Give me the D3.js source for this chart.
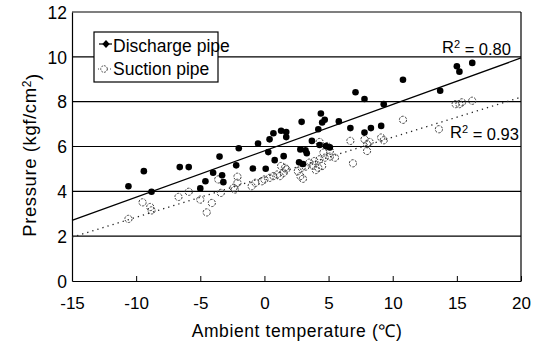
<!DOCTYPE html>
<html>
<head>
<meta charset="utf-8">
<script src="https://cdn.jsdelivr.net/npm/d3@7"></script>
<style>
  body { margin: 0; background: #fff; }
  svg text { font-family: "Liberation Sans", Arial, sans-serif; fill: #000; }
</style>
</head>
<body>
<div id="chart"></div>
<script>
// Data
const dischargeTemp = [-10.6, -9.4, -8.8, -6.6, -5.9, -5.0, -4.6, -4.0, -3.5, -3.3, -3.2, -2.2, -2.0, -0.9, -0.5, 0.1, 0.3, 0.4, 0.7, 0.8, 1.3, 1.5, 1.7, 1.7, 2.8, 2.9, 3.2, 3.3, 2.7, 3.0, 3.7, 4.2, 4.3, 4.4, 4.5, 4.7, 4.8, 5.1, 5.8, 6.7, 7.1, 7.8, 7.8, 8.3, 9.1, 9.3, 10.8, 13.7, 15.0, 15.2, 16.2];
const dischargePressure = [4.23, 4.90, 3.98, 5.08, 5.08, 4.13, 4.45, 4.83, 5.55, 4.72, 4.41, 5.16, 5.92, 5.02, 6.13, 5.01, 5.75, 6.32, 6.59, 5.39, 6.70, 5.57, 6.65, 6.42, 5.87, 7.10, 5.83, 5.70, 5.30, 5.22, 6.25, 6.77, 6.07, 7.47, 7.07, 7.19, 6.02, 5.96, 7.12, 6.82, 8.42, 8.12, 6.62, 6.82, 6.92, 7.89, 8.98, 8.49, 9.58, 9.34, 9.73];

const suctionTemp = [-10.6, -9.5, -8.9, -8.8, -6.7, -5.9, -5.0, -4.1, -4.5, -3.4, -3.6, -2.3, -2.1, -2.1, -2.4, -1.0, -0.7, -0.2, 0.0, 0.4, 0.7, 1.0, 1.2, 1.5, 1.7, 1.3, 1.6, 2.6, 2.9, 3.2, 2.8, 3.0, 3.5, 3.9, 4.3, 4.7, 5.1, 5.5, 4.2, 4.5, 4.3, 4.9, 4.6, 5.1, 6.7, 6.9, 7.8, 8.0, 8.2, 8.0, 9.1, 9.3, 10.8, 13.6, 14.9, 15.2, 15.4, 16.2, 3.8, 4.0];
const suctionPressure = [2.77, 3.51, 3.30, 3.15, 3.75, 3.98, 3.63, 3.48, 3.06, 3.93, 4.53, 4.08, 4.38, 4.65, 4.16, 4.23, 4.38, 4.45, 4.53, 4.60, 4.68, 4.75, 4.68, 4.83, 4.98, 5.13, 5.05, 4.90, 5.05, 5.10, 4.68, 4.56, 5.28, 5.35, 5.43, 5.50, 5.55, 5.50, 5.05, 5.13, 6.20, 6.02, 5.73, 5.80, 6.25, 5.25, 6.32, 6.10, 6.20, 5.80, 6.40, 6.28, 7.19, 6.77, 7.89, 7.89, 7.97, 8.04, 5.15, 4.95];

// trend lines (end points at the axis limits)
const fitTemp = [-15, 20];
const dischargeFit = [2.70, 9.95];
const suctionFit = [1.95, 8.20];

const xTicks = [-15, -10, -5, 0, 5, 10, 15, 20];
const yTicks = [0, 2, 4, 6, 8, 10, 12];
const gridValues = [2, 4, 6, 8, 10];
const seriesNames = ["Discharge pipe", "Suction pipe"];
const r2Values = ["0.80", "0.93"];

const margin = { top: 12, right: 22, bottom: 65, left: 72 };
const width = 543 - margin.left - margin.right;
const height = 346 - margin.top - margin.bottom;

const svg = d3.select("#chart")
  .append("svg")
  .attr("width", 543)
  .attr("height", 346)
  .append("g")
  .attr("transform", `translate(${margin.left},${margin.top})`);

const x = d3.scaleLinear().domain([-15, 20]).range([0, width]);
const y = d3.scaleLinear().domain([0, 12]).range([height, 0]);

// horizontal grid lines
svg.selectAll(".grid")
  .data(gridValues)
  .enter().append("line")
  .attr("x1", 0).attr("x2", width)
  .attr("y1", d => y(d)).attr("y2", d => y(d))
  .attr("stroke", "#000")
  .attr("stroke-width", 1.2);

// x axis with inward ticks, plain hyphen minus like the original
const xAxis = svg.append("g")
  .attr("transform", `translate(0,${height})`)
  .call(d3.axisBottom(x).tickValues(xTicks).tickFormat(d => String(d))
    .tickSizeInner(-5).tickSizeOuter(0).tickPadding(16));
xAxis.select(".domain").attr("stroke-width", 1.2);
xAxis.selectAll("text").style("font-size", "17px");

const yAxis = svg.append("g")
  .call(d3.axisLeft(y).tickValues(yTicks).tickFormat(d => String(d))
    .tickSizeInner(0).tickSizeOuter(0).tickPadding(5));
yAxis.select(".domain").attr("stroke-width", 1.2);
yAxis.selectAll("text").style("font-size", "17.5px").attr("dy", "0.36em");

// right and top frame
svg.append("line").attr("x1", width).attr("x2", width).attr("y1", 0).attr("y2", height)
  .attr("stroke", "#000").attr("stroke-width", 1.2);
svg.append("line").attr("x1", 0).attr("x2", width).attr("y1", 0).attr("y2", 0)
  .attr("stroke", "#000").attr("stroke-width", 1.2);

// trend lines
svg.append("line")
  .attr("x1", x(fitTemp[0])).attr("y1", y(dischargeFit[0]))
  .attr("x2", x(fitTemp[1])).attr("y2", y(dischargeFit[1]))
  .attr("stroke", "#000").attr("stroke-width", 1.3);
svg.append("line")
  .attr("x1", x(fitTemp[0])).attr("y1", y(suctionFit[0]))
  .attr("x2", x(fitTemp[1])).attr("y2", y(suctionFit[1]))
  .attr("stroke", "#222").attr("stroke-width", 1.3)
  .attr("stroke-dasharray", "1.3,4");

// suction points: open dashed circles
svg.selectAll(".suction")
  .data(suctionTemp)
  .enter().append("circle")
  .attr("class", "suction")
  .attr("cx", d => x(d))
  .attr("cy", (d, i) => y(suctionPressure[i]))
  .attr("r", 3.6)
  .attr("fill", "none")
  .attr("stroke", "#444")
  .attr("stroke-width", 1)
  .attr("stroke-dasharray", "2.5,1.2");

// discharge points: filled dots
svg.selectAll(".discharge")
  .data(dischargeTemp)
  .enter().append("circle")
  .attr("class", "discharge")
  .attr("cx", d => x(d))
  .attr("cy", (d, i) => y(dischargePressure[i]))
  .attr("r", 3.3)
  .attr("fill", "#000");

// R squared labels
const r2Pos = [[442 - margin.left, 53 - margin.top], [450 - margin.left, 138 - margin.top]];
r2Values.forEach((v, i) => {
  const t = svg.append("text")
    .attr("x", r2Pos[i][0]).attr("y", r2Pos[i][1])
    .style("font-size", "16.5px");
  t.append("tspan").text("R");
  t.append("tspan").attr("dy", "-0.45em").style("font-size", "11px").text("2");
  t.append("tspan").attr("dy", "0.45em").text(" = " + v);
});

// legend
const legend = svg.append("g").attr("transform", `translate(${94 - margin.left},${32 - margin.top})`);
legend.append("rect")
  .attr("width", 124).attr("height", 50)
  .attr("fill", "#fff").attr("stroke", "#000").attr("stroke-width", 1.2);
legend.append("line").attr("x1", 5).attr("x2", 18).attr("y1", 12).attr("y2", 12)
  .attr("stroke", "#000").attr("stroke-width", 1.2);
legend.append("path")
  .attr("d", d3.symbol(d3.symbolDiamond, 28))
  .attr("transform", "translate(12,12) scale(1.3,0.8)")
  .attr("fill", "#000");
legend.append("line").attr("x1", 4).attr("x2", 17).attr("y1", 37).attr("y2", 37)
  .attr("stroke", "#444").attr("stroke-width", 1).attr("stroke-dasharray", "1,2");
legend.append("circle").attr("cx", 10).attr("cy", 37).attr("r", 3.3)
  .attr("fill", "#fff").attr("stroke", "#555").attr("stroke-dasharray", "2,1");
legend.selectAll(".leg-text")
  .data(seriesNames)
  .enter().append("text")
  .attr("x", 19)
  .attr("y", (d, i) => 20 + i * 23)
  .style("font-size", "17.5px")
  .text(d => d);

// axis titles
svg.append("text")
  .attr("x", 297 - margin.left)
  .attr("y", 337 - margin.top)
  .style("text-anchor", "middle")
  .style("font-size", "17.5px")
  .style("letter-spacing", "0.6px")
  .text("Ambient temperature (℃)");

const yTitle = svg.append("text")
  .attr("transform", `translate(${36 - margin.left},${155 - margin.top}) rotate(-90)`)
  .style("text-anchor", "middle")
  .style("font-size", "18.5px")
  .style("letter-spacing", "0.6px");
yTitle.append("tspan").text("Pressure  (kgf/cm");
yTitle.append("tspan").attr("dy", "-0.45em").style("font-size", "12px").text("2");
yTitle.append("tspan").attr("dy", "0.45em").text(")");
</script>
</body>
</html>
